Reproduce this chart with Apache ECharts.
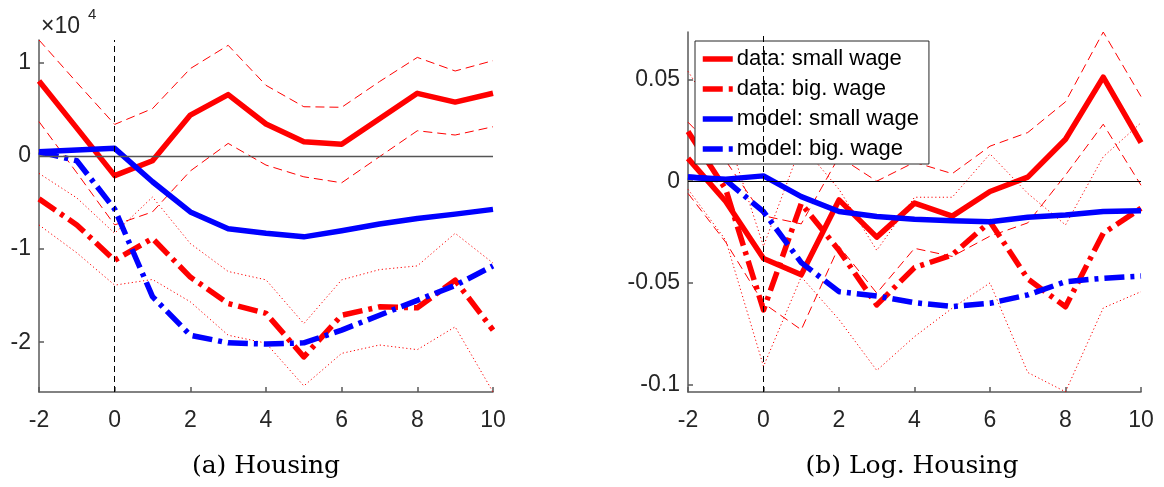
<!DOCTYPE html>
<html>
<head>
<meta charset="utf-8">
<title>Housing responses</title>
<script src="https://cdn.jsdelivr.net/npm/echarts@6/dist/echarts.min.js"></script>
<style>
  html, body { margin: 0; padding: 0; background: #fff; }
  #chart { width: 1164px; height: 487px; }
</style>
</head>
<body>
<div id="chart"></div>
<script>
// Horizon (periods relative to event)
const horizon = [-2, -1, 0, 1, 2, 3, 4, 5, 6, 7, 8, 9, 10];

// Panel (a): Housing, levels
const housingDataSmall  = [8060, 3000, -2100, -500, 4400, 6600, 3440, 1540, 1260, 4000, 6740, 5800, 6750];
const housingSmallUpper = [12470, 7900, 3400, 5100, 9400, 11900, 7600, 5300, 5240, 8000, 10600, 9140, 10250];
const housingSmallLower = [3700, -1800, -7400, -6000, -1600, 1360, -970, -2230, -2870, -70, 2720, 2260, 3150];
const housingDataBig    = [-4600, -7400, -11200, -8850, -13000, -15840, -16900, -21580, -17100, -16200, -16300, -13330, -18700];
const housingBigUpper   = [-1860, -4500, -8300, -4400, -9400, -12400, -13300, -18000, -13300, -12200, -11800, -8300, -11500];
const housingBigLower   = [-7400, -10400, -13870, -13260, -15660, -19250, -20100, -24700, -21200, -20300, -20800, -18350, -25350];
const housingModelSmall = [460, 650, 830, -2760, -6000, -7800, -8300, -8680, -8030, -7300, -6700, -6240, -5730];
const housingModelBig   = [460, -500, -5700, -15100, -19250, -20070, -20200, -20070, -18700, -17100, -15500, -13900, -11800];

// Panel (b): Log. Housing
const logDataSmall  = [0.0112, -0.010, -0.038, -0.046, -0.0092, -0.0275, -0.0108, -0.0172, -0.0051, 0.002, 0.0206, 0.0511, 0.019];
const logSmallUpper = [0.029, 0.010, -0.017, -0.021, 0.012, 0.000, 0.0093, 0.0037, 0.0172, 0.0239, 0.039, 0.0733, 0.0416];
const logSmallLower = [-0.006, -0.030, -0.060, -0.073, -0.032, -0.055, -0.033, -0.037, -0.027, -0.0205, 0.003, 0.028, -0.002];
const logDataBig    = [0.0244, -0.004, -0.0633, -0.011, -0.034, -0.0608, -0.0425, -0.0362, -0.0199, -0.048, -0.0617, -0.0256, -0.0133];
const logBigUpper   = [0.054, 0.025, -0.032, 0.018, -0.004, -0.034, -0.0079, -0.0079, 0.0134, -0.006, -0.0215, 0.012, 0.0287];
const logBigLower   = [-0.004, -0.029, -0.091, -0.047, -0.068, -0.093, -0.0764, -0.0624, -0.050, -0.094, -0.1035, -0.0623, -0.0543];
const logModelSmall = [0.002, 0.001, 0.0026, -0.0076, -0.0149, -0.0174, -0.0187, -0.0194, -0.0199, -0.0177, -0.0166, -0.0149, -0.0145];
const logModelBig   = [0.002, 0.0005, -0.015, -0.040, -0.0543, -0.0564, -0.0597, -0.0616, -0.060, -0.0559, -0.0494, -0.0477, -0.0466];

// Axis ticks
const housingYTicks = [-20000, -10000, 0, 10000];
const logYTicks = [-0.1, -0.05, 0, 0.05];
const legendNames = ['data: small wage', 'data: big. wage', 'model: small wage', 'model: big. wage'];
const captions = ['(a) Housing', '(b) Log. Housing'];

const RED = '#ff0000';
const BLUE = '#0000ff';
const DASH_DOT = [20, 6, 4, 6];
const THICK = 5.5;
const font = 'Liberation Sans, Arial, Helvetica, sans-serif';
const serif = 'DejaVu Serif, Liberation Serif, serif';

const pairs = (ys) => horizon.map((x, i) => [x, ys[i]]);

function line(name, ys, idx, color, width, type, z) {
  return {
    name: name,
    type: 'line',
    xAxisIndex: idx,
    yAxisIndex: idx,
    data: pairs(ys),
    symbol: 'none',
    showSymbol: false,
    silent: true,
    animation: false,
    z: z,
    lineStyle: { color: color, width: width, type: type, cap: 'butt', join: 'round' },
    itemStyle: { color: color }
  };
}

function refLines(idx) {
  // zero line and event line
  return {
    type: 'line',
    xAxisIndex: idx,
    yAxisIndex: idx,
    data: [],
    silent: true,
    animation: false,
    z: 1,
    markLine: {
      symbol: 'none',
      silent: true,
      animation: false,
      label: { show: false },
      data: [
        { yAxis: 0, lineStyle: { color: idx === 0 ? '#555' : '#000', width: idx === 0 ? 1.4 : 1, type: 'solid' } },
        { xAxis: 0, lineStyle: { color: '#000', width: 1, type: [6, 4] } }
      ]
    }
  };
}

function panelSeries(idx, d) {
  return [
    refLines(idx),
    line('smallUpper' + idx, d.smallUpper, idx, RED, 1, [9, 5], 2),
    line('smallLower' + idx, d.smallLower, idx, RED, 1, [9, 5], 2),
    line('bigUpper' + idx, d.bigUpper, idx, RED, 1, [1.2, 2.6], 2),
    line('bigLower' + idx, d.bigLower, idx, RED, 1, [1.2, 2.6], 2),
    line(legendNames[0], d.dataSmall, idx, RED, THICK, 'solid', 3),
    line(legendNames[1], d.dataBig, idx, RED, THICK, DASH_DOT, 3),
    line(legendNames[2], d.modelSmall, idx, BLUE, THICK, 'solid', 4),
    line(legendNames[3], d.modelBig, idx, BLUE, THICK, DASH_DOT, 4)
  ];
}

const axisLineStyle = { color: '#595959', width: 1.5 };
const labelStyle = { color: '#262626', fontSize: 23, fontFamily: font };

function xAxis(idx) {
  return {
    type: 'value', gridIndex: idx, min: -2, max: 10, interval: 2,
    axisLine: { show: true, onZero: false, lineStyle: axisLineStyle },
    axisTick: { show: true, inside: true, length: 5, lineStyle: axisLineStyle },
    axisLabel: { ...labelStyle, margin: 17 },
    splitLine: { show: false }
  };
}

function yAxis(idx, min, max, ticks, fmt) {
  return {
    type: 'value', gridIndex: idx, min: min, max: max,
    axisLine: { show: true, onZero: false, lineStyle: axisLineStyle },
    axisTick: { show: true, inside: true, length: 5, lineStyle: axisLineStyle, customValues: ticks },
    axisLabel: { ...labelStyle, margin: 8, customValues: ticks, formatter: fmt },
    splitLine: { show: false }
  };
}

const chart = echarts.init(document.getElementById('chart'), null, { renderer: 'canvas' });

chart.setOption({
  backgroundColor: '#fff',
  animation: false,
  grid: [
    { left: 39, top: 40, width: 454, height: 352 },
    { left: 688, top: 32, width: 453, height: 360 }
  ],
  xAxis: [xAxis(0), xAxis(1)],
  yAxis: [
    yAxis(0, -25350, 12470, housingYTicks, (v) => String(Math.round(v / 10000))),
    yAxis(1, -0.1036, 0.0733, logYTicks, (v) => String(v))
  ],
  legend: {
    show: true,
    data: legendNames,
    orient: 'vertical',
    left: 695,
    top: 41,
    padding: [7, 10, 4, 5],
    itemGap: 8,
    itemWidth: 30,
    itemHeight: 22,
    selectedMode: false,
    backgroundColor: '#fff',
    borderColor: '#262626',
    borderWidth: 1,
    borderRadius: 0,
    itemStyle: { opacity: 0 },
    lineStyle: { width: THICK },
    textStyle: { color: '#000', fontSize: 22, fontFamily: font, padding: [0, 0, 0, -1] }
  },
  graphic: [
    { type: 'text', x: 41, y: 15, style: { text: '\u00d710', fontSize: 23, fontFamily: font, fill: '#262626' } },
    { type: 'text', x: 88, y: 7, style: { text: '4', fontSize: 15, fontFamily: font, fill: '#262626' } },
    { type: 'text', x: 266, y: 466, style: { text: captions[0], fontSize: 25, fontFamily: serif, fill: '#000', align: 'center', verticalAlign: 'middle' } },
    { type: 'text', x: 912, y: 466, style: { text: captions[1], fontSize: 25, fontFamily: serif, fill: '#000', align: 'center', verticalAlign: 'middle' } }
  ],
  series: [
    ...panelSeries(0, {
      dataSmall: housingDataSmall, smallUpper: housingSmallUpper, smallLower: housingSmallLower,
      dataBig: housingDataBig, bigUpper: housingBigUpper, bigLower: housingBigLower,
      modelSmall: housingModelSmall, modelBig: housingModelBig
    }),
    ...panelSeries(1, {
      dataSmall: logDataSmall, smallUpper: logSmallUpper, smallLower: logSmallLower,
      dataBig: logDataBig, bigUpper: logBigUpper, bigLower: logBigLower,
      modelSmall: logModelSmall, modelBig: logModelBig
    })
  ]
});
</script>
</body>
</html>
